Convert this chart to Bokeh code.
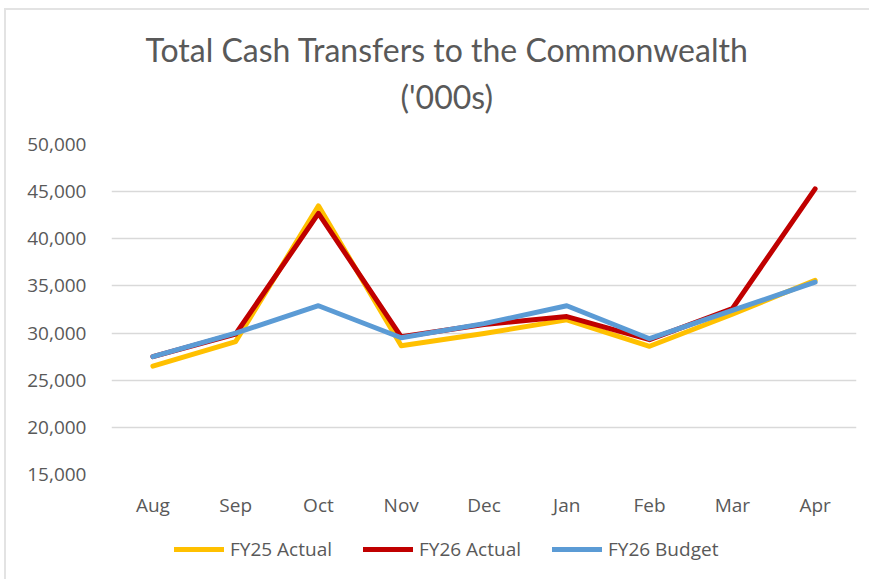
from bokeh.plotting import figure
from bokeh.layouts import column
from bokeh.models import (FactorRange, Range1d, FixedTicker, NumeralTickFormatter,
                          Legend, LegendItem, Title, ColumnDataSource)
from bokeh.embed import file_html
from bokeh.resources import INLINE

months = ["Aug", "Sep", "Oct", "Nov", "Dec", "Jan", "Feb", "Mar", "Apr"]
fy25_actual = [26500, 29100, 43500, 28650, 29950, 31400, 28600, 32000, 35600]
fy26_actual = [27500, 29900, 42700, 29600, 30900, 31750, 29300, 32600, 45300]
fy26_budget = [27500, 30000, 32900, 29500, 31000, 32900, 29400, 32400, 35400]
y_ticks = [15000, 20000, 25000, 30000, 35000, 40000, 45000, 50000]
series_names = ["FY25 Actual", "FY26 Actual", "FY26 Budget"]
series_colors = ["#FFC000", "#C00000", "#5B9BD5"]
title_line1 = "Total Cash Transfers to the Commonwealth"
title_line2 = "('000s)"

FONT = "Open Sans"
TFONT = "Lato"
GREY = "#595959"
BORDER = "2px solid #e3e3e3"

src = ColumnDataSource(dict(m=months, a=fy25_actual, b=fy26_actual, c=fy26_budget))

# ---- main chart ----
p = figure(x_range=FactorRange(*months, range_padding=0),
           y_range=Range1d(y_ticks[0], y_ticks[-1]),
           width=863, height=515,
           min_border_left=105, min_border_right=15,
           min_border_top=134, min_border_bottom=53,
           output_backend="svg", toolbar_location=None)
p.margin = (8, 0, 0, 4)
p.styles = {"border-top": BORDER, "border-left": BORDER, "box-sizing": "content-box"}

p.outline_line_color = None
p.background_fill_color = "white"
p.border_fill_color = "white"

p.yaxis.ticker = FixedTicker(ticks=y_ticks)
p.yaxis.formatter = NumeralTickFormatter(format="0,0")
for ax in (p.xaxis[0], p.yaxis[0]):
    ax.axis_line_color = None
    ax.major_tick_line_color = None
    ax.minor_tick_line_color = None
    ax.major_tick_out = 0
    ax.major_tick_in = 0
    ax.major_label_text_font = FONT
    ax.major_label_text_font_size = "19px"
    ax.major_label_text_color = GREY
p.yaxis.major_label_standoff = 25
p.xaxis.major_label_standoff = 17

p.xgrid.grid_line_color = None
p.ygrid.ticker = FixedTicker(ticks=y_ticks)
p.ygrid.grid_line_color = "#d9d9d9"
p.ygrid.grid_line_width = 1.6

for col, color in zip(["a", "b", "c"], series_colors):
    p.line("m", col, source=src, line_color=color, line_width=5,
           line_join="round", line_cap="round")

# title: second line nearest the frame, first line above it
p.add_layout(Title(text=title_line2, align="left", offset=289, standoff=58,
                   text_font=TFONT, text_font_size="32px", text_font_style="normal",
                   text_color=GREY), "above")
p.add_layout(Title(text=title_line1, align="left", offset=34, standoff=-46,
                   text_font=TFONT, text_font_size="32px", text_font_style="normal",
                   text_color=GREY), "above")

# ---- legend strip below the chart (same series, drawn out of its visible range) ----
lf = figure(width=863, height=54, x_range=FactorRange(*months, range_padding=0),
            y_range=Range1d(0, 1),
            min_border=0, output_backend="svg", toolbar_location=None,
            x_axis_location=None, y_axis_location=None)
lf.margin = (0, 0, 0, 4)
lf.styles = {"border-left": BORDER, "box-sizing": "content-box"}
lf.outline_line_color = None
lf.grid.visible = False
lf.background_fill_color = "white"
lf.border_fill_color = "white"

legend_renderers = []
for col, color in zip(["a", "b", "c"], series_colors):
    legend_renderers.append(lf.line("m", col, source=src, line_color=color, line_width=5,
                                    line_join="round", line_cap="round"))

legend = Legend(items=[LegendItem(label=n, renderers=[r])
                       for n, r in zip(series_names, legend_renderers)],
                orientation="horizontal", location=(63, 17),
                padding=0, margin=0, spacing=31, glyph_width=50, glyph_height=20,
                label_height=20, label_standoff=6,
                label_text_font=FONT, label_text_font_size="19px",
                label_text_color=GREY, border_line_color=None,
                background_fill_alpha=0)
lf.add_layout(legend, "center")

layout = column(p, lf, spacing=0)
open("out.html", "w").write(file_html(layout, INLINE))
